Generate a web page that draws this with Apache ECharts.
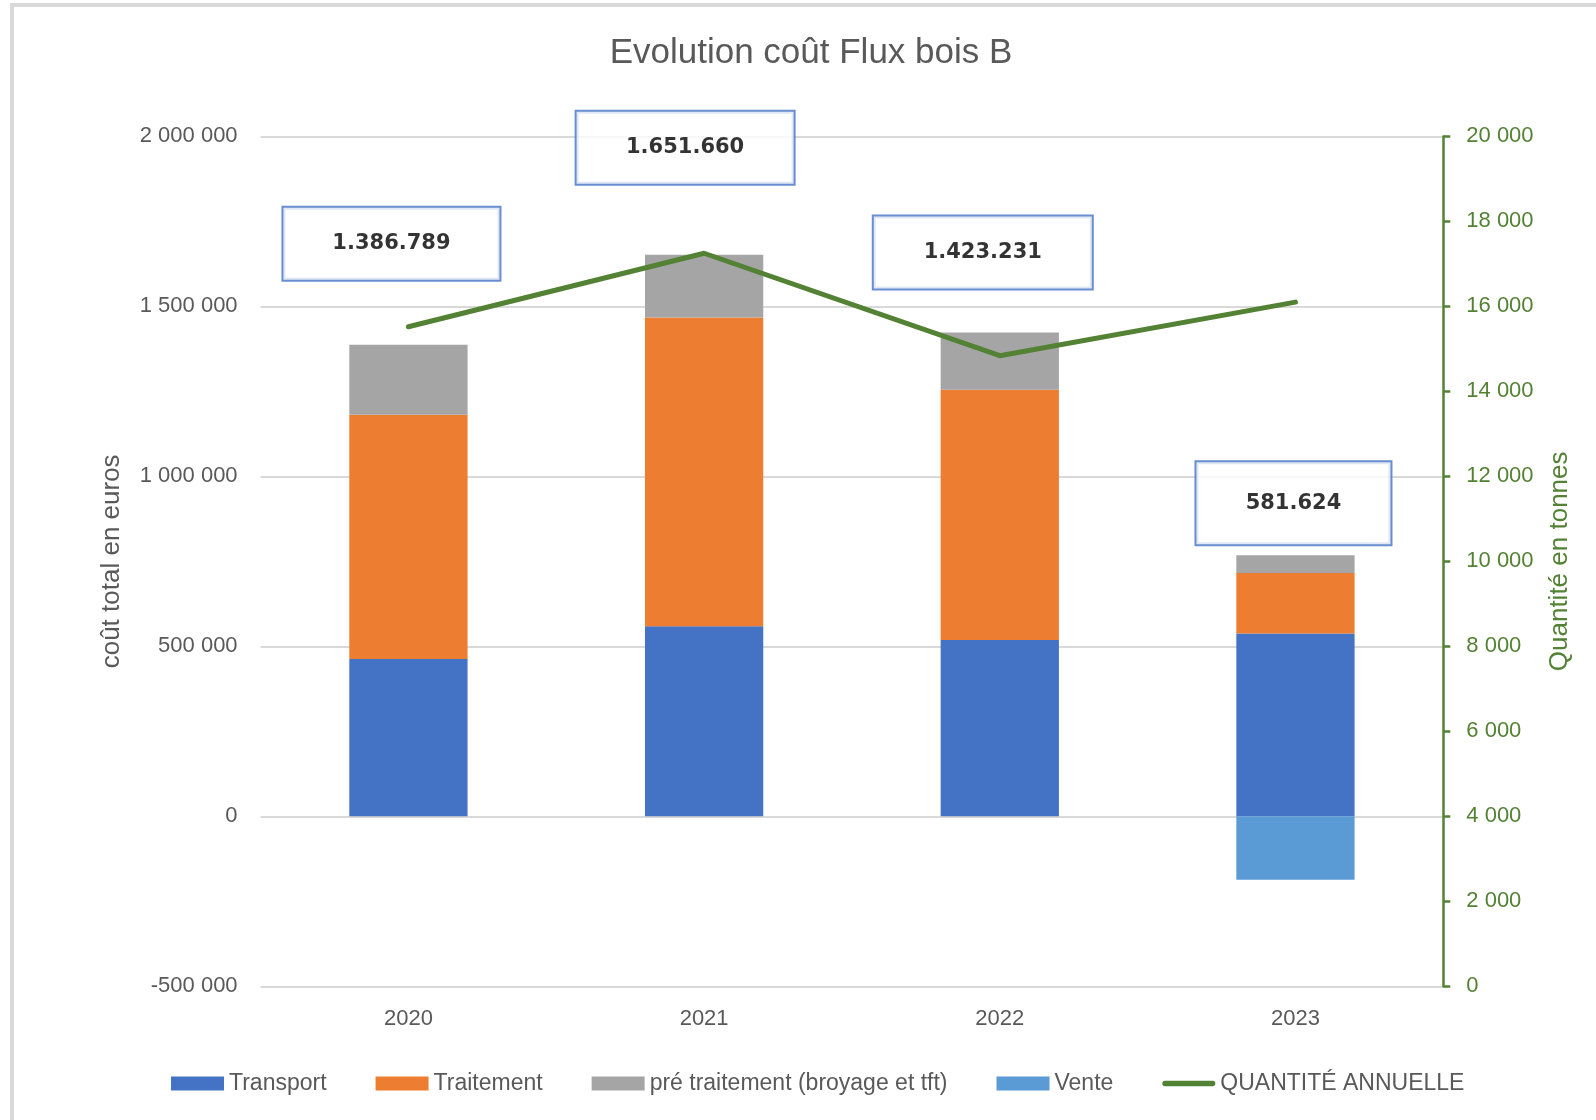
<!DOCTYPE html>
<html>
<head>
<meta charset="utf-8">
<script src="https://cdn.jsdelivr.net/npm/echarts@6/dist/echarts.min.js"></script>
<style>
html,body{margin:0;padding:0;background:#fff;}
#c{position:absolute;left:0;top:0;width:1596px;height:1120px;}
#frame{position:absolute;left:10px;top:3px;right:0;bottom:0;border-top:4px solid #d9d9d9;border-left:4px solid #d9d9d9;pointer-events:none;}
</style>
</head>
<body>
<div id="c"></div>
<div id="frame"></div>
<script>
// ---- data ----
const years = ['2020', '2021', '2022', '2023'];
const transport = [462500, 559000, 519000, 537500];
const traitement = [718500, 908600, 736000, 178500];
const preTraitement = [205800, 184100, 168200, 52000];
const vente = [null, null, null, -186400];
const totals = [1386789, 1651660, 1423231, 581624];
const quantite = [15520, 17250, 14840, 16100];
const seriesNames = ['Transport', 'Traitement', 'pré traitement (broyage et tft)', 'Vente', 'QUANTITÉ ANNUELLE'];

// ---- helpers ----
function fmtSpace(v) {
  const s = Math.abs(v).toString().replace(/\B(?=(\d{3})+(?!\d))/g, '\u00a0');
  return (v < 0 ? '-' : '') + s;
}
function fmtDot(v) {
  return v.toString().replace(/\B(?=(\d{3})+(?!\d))/g, '.');
}

const FONT = 'Liberation Sans';
const GRAY = '#595959';
const GREEN = '#548235';

// label box layout (pixels, relative to top of positive stack)
const boxLayout = [
  { offset: [-17, -101], width: 216, padding: [15, 0, 33, 0] },
  { offset: [-19, -107], width: 217, padding: [15, 0, 33, 0] },
  { offset: [-17, -80], width: 218, padding: [15, 0, 33, 0] },
  { offset: [-2, -52], width: 194, padding: [34, 0, 24, 0] }
];

const chart = echarts.init(document.getElementById('c'), null, { renderer: 'canvas' });

const barBase = {
  type: 'bar',
  stack: 'total',
  barWidth: '40%',
  xAxisIndex: 0,
  yAxisIndex: 0,
  emphasis: { disabled: true }
};

chart.setOption({
  animation: false,
  backgroundColor: 'transparent',
  title: {
    text: 'Evolution coût Flux bois B',
    left: 811,
    textAlign: 'center',
    top: 36,
    padding: 0,
    textStyle: { fontFamily: FONT, fontSize: 35, fontWeight: 'normal', color: GRAY }
  },
  grid: {
    left: 260.6, right: 152.7, top: 136.4, bottom: 133.7,
    outerBoundsMode: 'none'
  },
  legend: {
    left: 171,
    top: 1072,
    padding: 0,
    itemWidth: 53,
    itemHeight: 14,
    itemGap: 49,
    textStyle: { fontFamily: FONT, fontSize: 23, color: GRAY },
    data: [
      { name: seriesNames[0], icon: 'rect' },
      { name: seriesNames[1], icon: 'rect' },
      { name: seriesNames[2], icon: 'rect' },
      { name: seriesNames[3], icon: 'rect' },
      { name: seriesNames[4], icon: 'path://M3,0H57A3,3 0 0 1 57,6H3A3,3 0 0 1 3,0Z' }
    ]
  },
  xAxis: {
    type: 'category',
    data: years,
    axisLine: { show: false, onZero: false },
    axisTick: { show: false },
    axisLabel: { fontFamily: FONT, fontSize: 22, color: GRAY, margin: 22 }
  },
  yAxis: [
    {
      type: 'value',
      position: 'left',
      min: -500000,
      max: 2000000,
      interval: 500000,
      axisLine: { show: false },
      axisTick: { show: false },
      splitLine: { show: true, lineStyle: { color: '#d9d9d9', width: 2 } },
      axisLabel: { fontFamily: FONT, fontSize: 22, color: GRAY, margin: 23, formatter: fmtSpace },
      name: 'coût total en euros',
      nameLocation: 'middle',
      nameGap: 136,
      nameTextStyle: { fontFamily: FONT, fontSize: 26, color: GRAY }
    },
    {
      type: 'value',
      position: 'right',
      min: 0,
      max: 20000,
      interval: 2000,
      axisLine: { show: true, lineStyle: { color: GREEN, width: 2.5 } },
      axisTick: { show: true, inside: false, length: 7, lineStyle: { color: GREEN, width: 2.5 } },
      splitLine: { show: false },
      axisLabel: { fontFamily: FONT, fontSize: 22, color: GREEN, margin: 23, formatter: fmtSpace },
      name: 'Quantité en tonnes',
      nameLocation: 'middle',
      nameRotate: 90,
      nameGap: 104,
      nameTextStyle: { fontFamily: FONT, fontSize: 26, color: GREEN }
    }
  ],
  series: [
    Object.assign({}, barBase, { name: seriesNames[0], data: transport, itemStyle: { color: '#4472C4' } }),
    Object.assign({}, barBase, { name: seriesNames[1], data: traitement, itemStyle: { color: '#ED7D31' } }),
    Object.assign({}, barBase, { name: seriesNames[2], data: preTraitement, itemStyle: { color: '#A5A5A5' } }),
    Object.assign({}, barBase, { name: seriesNames[3], data: vente, itemStyle: { color: '#5B9BD5' } }),
    {
      name: seriesNames[4],
      type: 'line',
      yAxisIndex: 1,
      data: quantite,
      symbol: 'none',
      showSymbol: false,
      itemStyle: { color: GREEN },
      lineStyle: { color: GREEN, width: 5, cap: 'round', join: 'round' },
      z: 5,
      emphasis: { disabled: true }
    },
    {
      name: 'totaux',
      type: 'scatter',
      yAxisIndex: 0,
      symbolSize: 1,
      itemStyle: { color: 'rgba(0,0,0,0)' },
      z: 10,
      silent: true,
      emphasis: { disabled: true },
      data: years.map((y, i) => ({
        value: [i, transport[i] + traitement[i] + preTraitement[i]],
        label: {
          show: true,
          position: 'inside',
          offset: boxLayout[i].offset,
          width: boxLayout[i].width,
          padding: boxLayout[i].padding,
          formatter: () => fmtDot(totals[i]),
          fontFamily: 'DejaVu Sans',
          fontWeight: 'bold',
          fontSize: 21,
          lineHeight: 24,
          color: '#000',
          align: 'center',
          verticalAlign: 'middle',
          backgroundColor: '#fff',
          borderColor: '#4472C4',
          borderWidth: 2
        }
      }))
    }
  ]
});
</script>
</body>
</html>
